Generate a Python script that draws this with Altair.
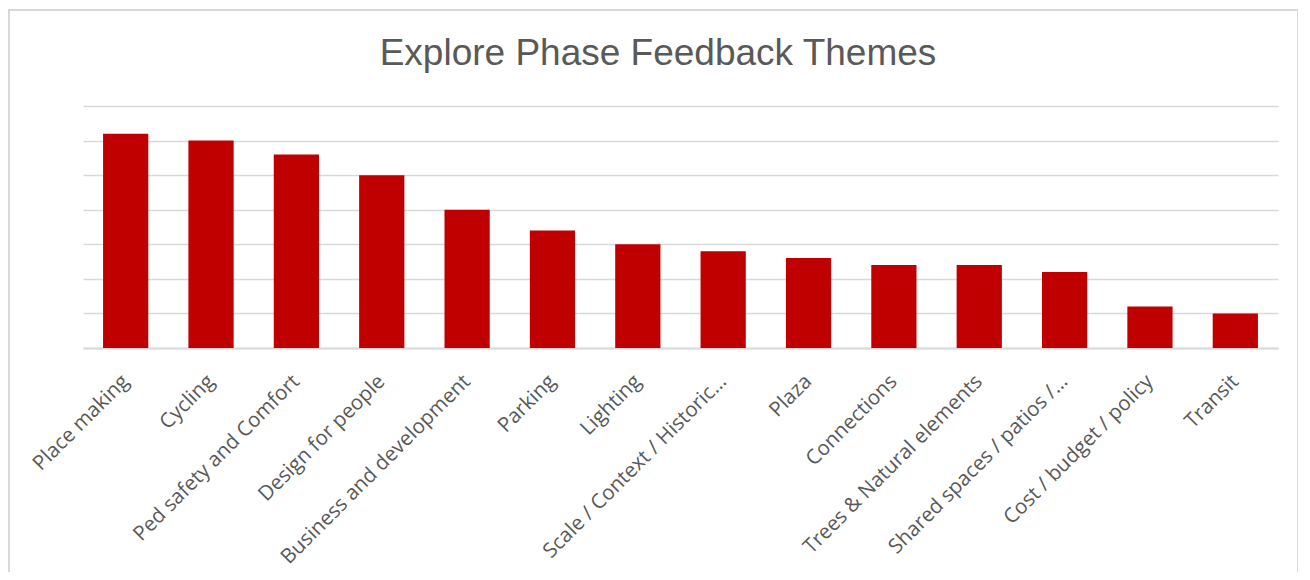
import altair as alt
import pandas as pd

title_text = "Explore Phase Feedback Themes"
themes = [
    "Place making", "Cycling", "Ped safety and Comfort", "Design for people",
    "Business and development", "Parking", "Lighting", "Scale / Context / Historic…",
    "Plaza", "Connections", "Trees & Natural elements", "Shared spaces / patios /…",
    "Cost / budget / policy", "Transit",
]
counts = [31, 30, 28, 25, 20, 17, 15, 14, 13, 12, 12, 11, 6, 5]
grid_values = [0, 5, 10, 15, 20, 25, 30, 35]

df = pd.DataFrame({"theme": themes, "count": counts})

PLOT_W = 1195
PLOT_H = 242

bars = alt.Chart(df).mark_bar(color="#C00000").encode(
    x=alt.X(
        "theme:N",
        sort=themes,
        title=None,
        scale=alt.Scale(paddingInner=0.47, paddingOuter=0.235),
        axis=alt.Axis(
            labelAngle=-45,
            labelAlign="right",
            labelBaseline="middle",
            labelFont="Open Sans",
            labelFontSize=20.5,
            labelColor="#595959",
            labelPadding=30,
            labelLimit=400,
            ticks=False,
            domainColor="#d9d9d9",
            domainWidth=2,
            grid=False,
        ),
    ),
    y=alt.Y(
        "count:Q",
        title=None,
        scale=alt.Scale(domain=[0, 35], nice=False),
        axis=alt.Axis(
            values=grid_values,
            labels=False,
            ticks=False,
            domain=False,
            grid=True,
            gridColor="#d9d9d9",
            gridWidth=1.5,
        ),
    ),
)

frame = alt.Chart(pd.DataFrame({"a": [0]})).mark_rect(
    fill="transparent", stroke="#d9d9d9", strokeWidth=2, clip=False
).encode(
    x=alt.value(-74), x2=alt.value(1215),
    y=alt.value(-96), y2=alt.value(500),
)

title = alt.Chart(pd.DataFrame({"t": [title_text]})).mark_text(
    font="Liberation Sans",
    fontSize=37,
    color="#595959",
    align="center",
    baseline="alphabetic",
).encode(
    text="t:N",
    x=alt.value(575),
    y=alt.value(-41),
)

chart = alt.layer(frame, bars, title).properties(
    width=PLOT_W,
    height=PLOT_H,
    autosize=alt.AutoSizeParams(type="none"),
    padding={"left": 75, "top": 98, "right": 20, "bottom": 224},
).configure(background="white").configure_view(strokeWidth=0, stroke="transparent")

chart.save("out.html", embed_options={"renderer": "svg", "actions": False})
